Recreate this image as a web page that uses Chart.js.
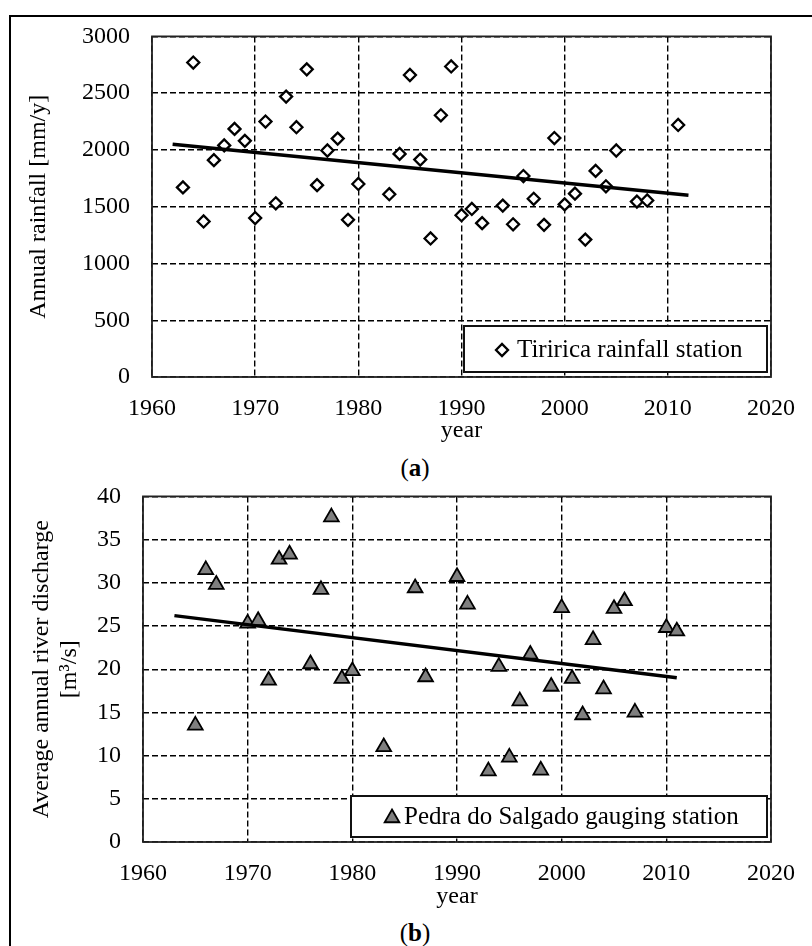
<!DOCTYPE html>
<html>
<head>
<meta charset="utf-8">
<script src="https://cdn.jsdelivr.net/npm/chart.js@4.4.1/dist/chart.umd.min.js"></script>
<style>
html,body{margin:0;padding:0;background:#fff;overflow:hidden;width:812px;height:946px;}
.frame{position:absolute;left:9px;top:15px;width:900px;height:1000px;border-left:2px solid #000;border-top:2px solid #000;}
canvas{position:absolute;left:0;}
#chartA{top:0;}
#chartB{top:460px;}
.cap{position:absolute;left:0;width:830px;text-align:center;font:25px "Liberation Serif","Times New Roman",serif;line-height:28px;color:#000;}
</style>
</head>
<body>
<div class="frame"></div>
<canvas id="chartA" width="812" height="445"></canvas>
<div class="cap" style="top:454px">(<b>a</b>)</div>
<canvas id="chartB" width="812" height="451"></canvas>
<div class="cap" style="top:919px">(<b>b</b>)</div>
<script>
Chart.defaults.font.family='"Liberation Serif","Times New Roman",serif';
Chart.defaults.font.size=24;
Chart.defaults.color='#000';

// (a) Tiririca rainfall station
const yearsA=[1963,1964,1965,1966,1967,1968,1969,1970,1971,1972,1973,1974,1975,1976,1977,1978,1979,1980,
  1983,1984,1985,1986,1987,1988,1989,1990,1991,1992,1994,1995,1996,1997,1998,1999,2000,2001,2002,2003,2004,2005,2007,2008,2011];
const rainA=[1670,2770,1370,1910,2040,2185,2080,1400,2250,1530,2470,2200,2710,1690,1995,2100,1385,1700,
  1610,1965,2660,1915,1220,2305,2735,1425,1480,1355,1510,1345,1770,1570,1340,2105,1520,1615,1210,1815,1680,1995,1545,1555,2220];
const trendYearsA=[1962,2012];
const trendA=[2050,1600];

// (b) Pedra do Salgado gauging station
const yearsB=[1965,1966,1967,1970,1971,1972,1973,1974,1976,1977,1978,1979,1980,1983,1986,1987,1990,1991,1993,1994,
  1995,1996,1997,1998,1999,2000,2001,2002,2003,2004,2005,2006,2007,2010,2011];
const flowB=[13.5,31.5,29.8,25.3,25.6,18.7,32.7,33.3,20.6,29.2,37.6,18.9,19.8,11.0,29.4,19.1,30.7,27.5,8.2,20.3,
  9.8,16.3,21.7,8.3,18.0,27.1,18.9,14.7,23.4,17.7,27.0,27.9,15.0,24.8,24.4];
const trendYearsB=[1963,2011];
const trendB=[26.2,19.0];

const xTicks=[1960,1970,1980,1990,2000,2010,2020];
const yTicksA=[0,500,1000,1500,2000,2500,3000];
const yTicksB=[0,5,10,15,20,25,30,35,40];

const pts=(xs,ys)=>xs.map((x,i)=>({x:x,y:ys[i]}));

// plot frame + boxed legend inside the plot area
const boxPlot={
  id:'boxPlot',
  beforeDatasetsDraw(c){
    const {ctx,chartArea:a}=c;
    ctx.save();ctx.setLineDash([]);ctx.strokeStyle='#222';ctx.lineWidth=1.8;
    ctx.strokeRect(a.left,a.top,a.right-a.left,a.bottom-a.top);
    ctx.restore();
  },
  afterDatasetsDraw(c,args,o){
    if(!o||!o.text)return;
    const {ctx,chartArea:a}=c;
    const l=a.right-4-o.w,t=a.bottom-5-o.h;
    ctx.save();ctx.setLineDash([]);
    ctx.fillStyle='#fff';ctx.fillRect(l,t,o.w,o.h);
    ctx.strokeStyle='#111';ctx.lineWidth=2;ctx.strokeRect(l,t,o.w,o.h);
    ctx.fillStyle=o.fill;ctx.strokeStyle='#000';ctx.lineWidth=o.bw;
    Chart.helpers.drawPoint(ctx,{pointStyle:o.style,radius:o.r,rotation:0,borderWidth:o.bw},l+o.mx,t+o.my);
    ctx.fillStyle='#000';ctx.font='25px "Liberation Serif","Times New Roman",serif';
    ctx.textAlign='left';ctx.textBaseline='alphabetic';
    ctx.fillText(o.text,l+o.tx,t+o.ty);
    ctx.restore();
  }
};

function xScale(h){
  return {type:'linear',min:1960,max:2020,
    afterBuildTicks:s=>{s.ticks=xTicks.map(v=>({value:v}));},
    afterFit:s=>{s.height=h;},
    grid:{color:'#000',lineWidth:1.4,drawTicks:false,borderDash:[6,3]},
    border:{display:false,dash:[6,3]},
    ticks:{padding:17,callback:v=>String(v)},
    title:{display:true,text:'year',padding:{top:0,bottom:0}}};
}
function yScale(ticks,w,title,pad){
  return {type:'linear',min:ticks[0],max:ticks[ticks.length-1],
    afterBuildTicks:s=>{s.ticks=ticks.map(v=>({value:v}));},
    afterFit:s=>{s.width=w;},
    grid:{color:'#000',lineWidth:1.4,drawTicks:false,borderDash:[6,3]},
    border:{display:false,dash:[6,3]},
    ticks:{padding:22,callback:v=>String(v)},
    title:{display:true,text:title,padding:{top:pad,bottom:0}}};
}

new Chart(document.getElementById('chartA'),{
  type:'scatter',
  data:{datasets:[
    {type:'line',data:pts(trendYearsA,trendA),borderColor:'#000',borderWidth:3.5,pointRadius:0,fill:false,order:0},
    {data:pts(yearsA,rainA),pointStyle:'rectRot',pointRadius:6,pointBorderWidth:2.3,
      pointBackgroundColor:'#fff',pointBorderColor:'#000',order:1}
  ]},
  options:{responsive:false,animation:false,
    layout:{padding:{left:0,top:30,right:38,bottom:0}},
    plugins:{legend:{display:false},tooltip:{enabled:false},
      boxPlot:{text:'Tiririca rainfall station',w:303,h:46,mx:38,my:24,tx:53,ty:31,style:'rectRot',r:6,bw:2.3,fill:'#fff'}},
    scales:{x:xScale(68),y:yScale(yTicksA,152,'Annual rainfall [mm/y]',24)}
  },
  plugins:[boxPlot]
});

new Chart(document.getElementById('chartB'),{
  type:'scatter',
  data:{datasets:[
    {type:'line',data:pts(trendYearsB,trendB),borderColor:'#000',borderWidth:3.5,pointRadius:0,fill:false,order:0},
    {data:pts(yearsB,flowB),pointStyle:'triangle',pointRadius:8.5,pointBorderWidth:1.8,
      pointBackgroundColor:'#7f7f7f',pointBorderColor:'#000',order:1}
  ]},
  options:{responsive:false,animation:false,
    layout:{padding:{left:0,top:35,right:30,bottom:0}},
    plugins:{legend:{display:false},tooltip:{enabled:false},
      boxPlot:{text:'Pedra do Salgado gauging station',w:416,h:41,mx:41,my:22,tx:53,ty:28,style:'triangle',r:8.5,bw:1.8,fill:'#7f7f7f'}},
    scales:{x:xScale(69),y:yScale(yTicksB,143,['Average annual river discharge','[m\u00b3/s]'],27)}
  },
  plugins:[boxPlot]
});
</script>
</body>
</html>
